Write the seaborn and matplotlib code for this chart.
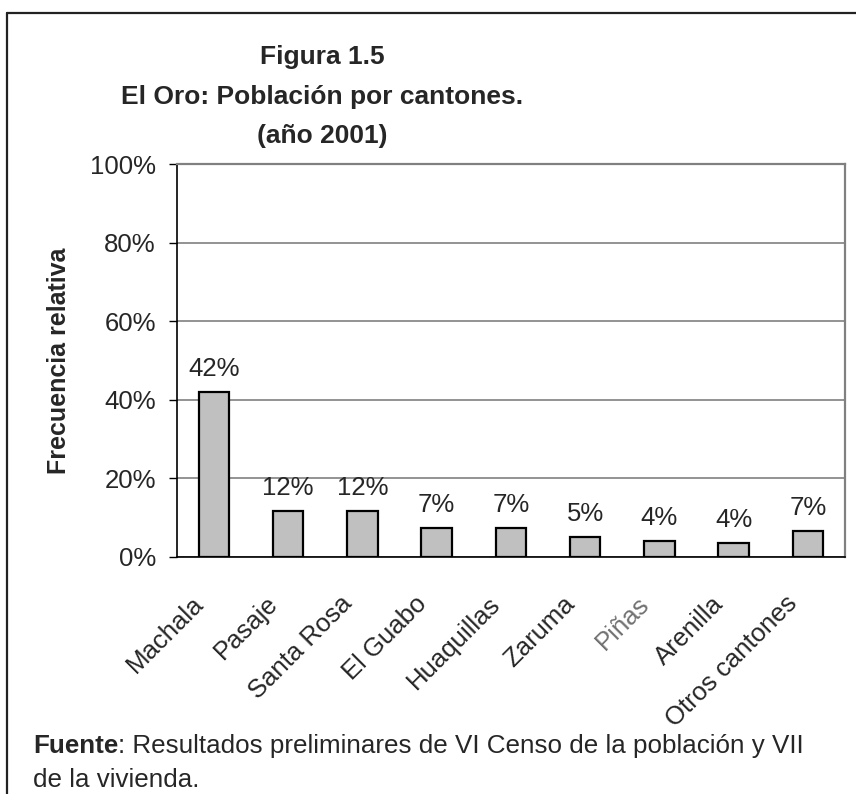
import numpy as np
import pandas as pd
import seaborn as sns
import matplotlib.pyplot as plt
from matplotlib.lines import Line2D
from matplotlib.ticker import FixedLocator
from matplotlib.transforms import ScaledTranslation

# Datos: población relativa por cantón (El Oro, 2001)
cantones = ["Machala", "Pasaje", "Santa Rosa", "El Guabo", "Huaquillas",
            "Zaruma", "Piñas", "Arenilla", "Otros cantones"]
frecuencia = [42.0, 11.6, 11.6, 7.4, 7.4, 5.0, 4.0, 3.6, 6.6]
etiquetas_y = ["0%", "20%", "40%", "60%", "80%", "100%"]

df = pd.DataFrame({"canton": cantones, "frec": frecuencia})

sns.set_style("white")
plt.rcParams["font.family"] = ["Liberation Sans", "DejaVu Sans"]

fig = plt.figure(figsize=(8.56, 7.94), dpi=100)
ax = fig.add_axes([176.7 / 856, 1 - 557 / 794, (845 - 176.7) / 856, (557 - 164) / 794])

sns.barplot(data=df, x="canton", y="frec", color="#c0c0c0", saturation=1,
            edgecolor="black", linewidth=1.6, width=0.41, ax=ax)

ax.set_ylim(0, 100)
ax.set_xlim(-0.5, len(cantones) - 0.5)
ax.set_yticks(np.arange(0, 101, 20))
ax.set_yticklabels(etiquetas_y, fontsize=18.5)
ax.yaxis.grid(True, color="#808080", linewidth=1.2)
ax.set_axisbelow(True)

# ticks entre categorías, etiquetas en el centro
ax.xaxis.set_major_locator(FixedLocator(np.arange(-0.5, len(cantones), 1)))
ax.xaxis.set_minor_locator(FixedLocator(np.arange(len(cantones))))
ax.set_xticklabels([""] * (len(cantones) + 1))
ax.set_xticklabels(cantones, minor=True, rotation=45, ha="right", va="center",
                   rotation_mode="anchor", fontsize=18.5)
ax.tick_params(axis="x", which="major", direction="out", length=6, width=1, color="black")
ax.tick_params(axis="x", which="minor", length=0, pad=31)
ax.tick_params(axis="y", direction="out", length=6, width=1, color="black", pad=9, left=True)
for lab in ax.get_xticklabels(minor=True):
    lab.set_transform(lab.get_transform() + ScaledTranslation(-0.14, 0, fig.dpi_scale_trans))
    if lab.get_text() == "Piñas":
        lab.set_color("#707070")

ax.set_xlabel("")
ax.set_ylabel("Frecuencia relativa", fontsize=18, fontweight="bold")
ax.yaxis.set_label_coords((71 - 176.7) / 668.3, 0.5)

for sp in ["left", "bottom"]:
    ax.spines[sp].set_color("black")
    ax.spines[sp].set_linewidth(1.2)
for sp in ["top", "right"]:
    ax.spines[sp].set_color("#808080")
    ax.spines[sp].set_linewidth(1.6)

for i, v in enumerate(frecuencia):
    ax.annotate(f"{v:.0f}%", (i, v), xytext=(0, 8), textcoords="offset points",
                ha="center", va="bottom", fontsize=18.5)

# título
tx = 322 / 856
fig.text(tx, 1 - 57 / 794, "Figura 1.5", ha="center", va="center", fontsize=19, fontweight="bold")
fig.text(tx, 1 - 97 / 794, "El Oro: Población por cantones.", ha="center", va="center",
         fontsize=19, fontweight="bold")
fig.text(tx, 1 - 136 / 794, "(año 2001)", ha="center", va="center", fontsize=19, fontweight="bold")

# fuente
t1 = fig.text(33 / 856, 1 - 746 / 794, "Fuente", ha="left", va="center", fontsize=18.7, fontweight="bold")
fig.canvas.draw()
bb = t1.get_window_extent()
fig.text(bb.x1 / fig.bbox.width, 1 - 746 / 794,
         ": Resultados preliminares de VI Censo de la población y VII",
         ha="left", va="center", fontsize=18.7)
fig.text(33 / 856, 1 - 780 / 794, "de la vivienda.", ha="left", va="center", fontsize=18.7)

# marco exterior
fig.add_artist(Line2D([7 / 856, 1], [1 - 12.5 / 794] * 2, color="#222222", linewidth=1.6))
fig.add_artist(Line2D([7 / 856] * 2, [0, 1 - 12.5 / 794], color="#222222", linewidth=1.6))

fig.savefig("out.png", dpi=100)
